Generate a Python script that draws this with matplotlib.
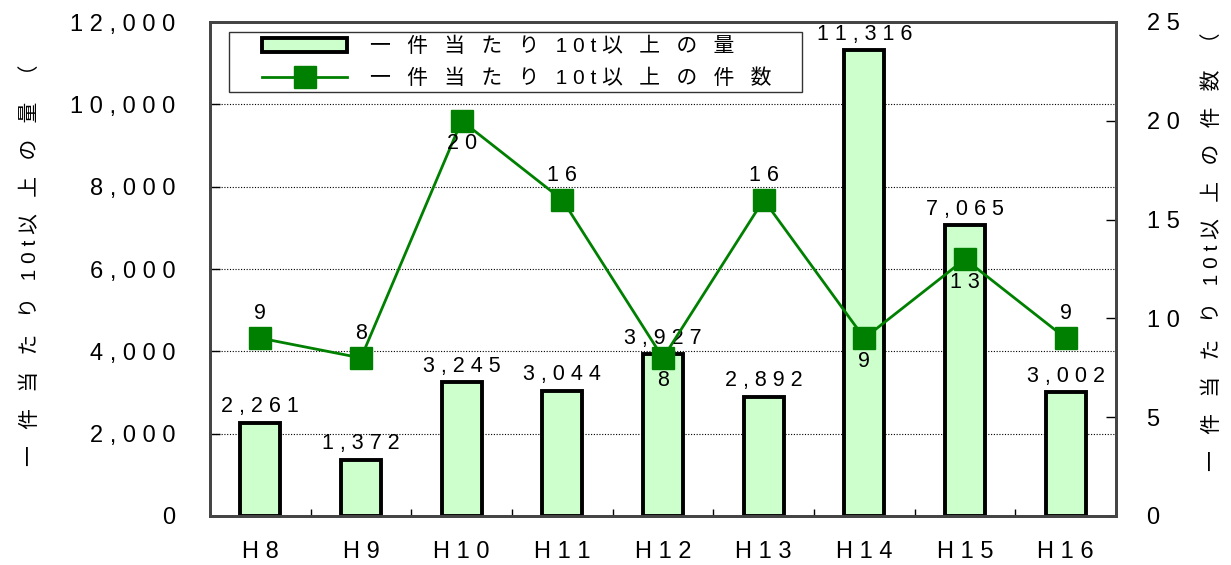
import numpy as np
import matplotlib.pyplot as plt
from matplotlib.patches import Rectangle

plt.rcParams['font.family'] = ['Liberation Sans', 'Noto Sans CJK JP']

years = ['H8', 'H9', 'H10', 'H11', 'H12', 'H13', 'H14', 'H15', 'H16']
amount = [2261, 1372, 3245, 3044, 3927, 2892, 11316, 7065, 3002]
count = [9, 8, 20, 16, 8, 16, 9, 13, 9]
# where each count label sits relative to its marker
count_pos = ['above', 'above', 'below', 'above', 'below', 'above', 'below', 'below', 'above']

label_amount = '一件当たり10t以上の量'
label_count = '一件当たり10t以上の件数'
ylabel_left = '一件当たり10t以上の量（'
ylabel_right = '一件当たり10t以上の件数（'


def sp(s):
    # wide letter spacing like the original: wider gap after CJK, one space after latin
    out = ''
    for i, c in enumerate(s):
        out += c
        if i < len(s) - 1:
            out += ' \u2002' if ord(c) > 0x2000 else ' '
    return out


W, H = 1231, 565
fig = plt.figure(figsize=(W / 100, H / 100), dpi=100)
ax = fig.add_axes([210/W, 1 - 516/H, 906/W, 494/H])
ax2 = ax.twinx()

x = np.arange(len(years))
bars = ax.bar(x, amount, width=0.4, color='#CCFFCC', edgecolor='black',
              linewidth=2.8, zorder=2)
line, = ax2.plot(x, count, color='#008000', lw=2, marker='s', ms=16, zorder=3)

ax.set_xlim(-0.5, len(years) - 0.5)
ax.set_ylim(0, 12000)
ax2.set_ylim(0, 25)

for i, v in enumerate(amount):
    ax.annotate(sp(f'{v:,}'), (x[i], v), xytext=(0, 4), textcoords='offset points',
                ha='center', va='bottom', fontsize=15.5)
for i, v in enumerate(count):
    if count_pos[i] == 'above':
        ax2.annotate(sp(str(v)), (x[i], v), xytext=(0, 10), textcoords='offset points',
                     ha='center', va='bottom', fontsize=15.5, zorder=4)
    else:
        ax2.annotate(sp(str(v)), (x[i], v), xytext=(0, -9), textcoords='offset points',
                     ha='center', va='top', fontsize=15.5, zorder=4)

# grid
for g in range(2000, 12000, 2000):
    ax.axhline(g, color='black', lw=0.8, ls=(0, (1, 1.5)), zorder=1)

ax.set_yticks(range(0, 12001, 2000))
ax.set_yticklabels([sp(f'{t:,}') for t in range(0, 12001, 2000)], fontsize=17)
ax2.set_yticks(range(0, 26, 5))
ax2.set_yticklabels([sp(str(t)) for t in range(0, 26, 5)], fontsize=17)
ax.set_xticks(x)
ax.set_xticklabels([sp(y) for y in years], fontsize=17)
ax.set_xticks(np.arange(0.5, len(years) - 1, 1), minor=True)
ax.tick_params(axis='x', which='major', length=0, pad=18)
ax.tick_params(axis='x', which='minor', direction='in', length=5, width=1)
ax.tick_params(axis='y', direction='in', length=7, width=1, pad=25)
ax2.tick_params(axis='y', direction='in', length=7, width=1, pad=22)

for a in (ax, ax2):
    for s in a.spines.values():
        s.set_color('#444444')
        s.set_linewidth(2)

fig.text(30/W, 1 - 265/H, sp(ylabel_left), rotation=90, ha='center',
         va='center', fontsize=15)
fig.text(1212/W, 1 - 252/H, sp(ylabel_right), rotation=90, ha='center',
         va='center', fontsize=15)

# legend box, drawn inside ax2 under the legend entries
box = Rectangle((229/W, 1 - 92/H), (802 - 229)/W, 60/H, transform=fig.transFigure,
                facecolor='white', edgecolor='#333333', lw=1, zorder=5, clip_on=False)
ax2.add_artist(box)
leg = ax2.legend([bars, line], [sp(label_amount), sp(label_count)],
                 loc='upper left', bbox_to_anchor=(262/W, 1 - 37/H),
                 bbox_transform=fig.transFigure, borderaxespad=0, borderpad=0,
                 frameon=False, fontsize=15, handlelength=4.1, handleheight=0.6,
                 handletextpad=1.1, labelspacing=0.6)
leg.set_zorder(6)

fig.savefig('out.png', dpi=100)
